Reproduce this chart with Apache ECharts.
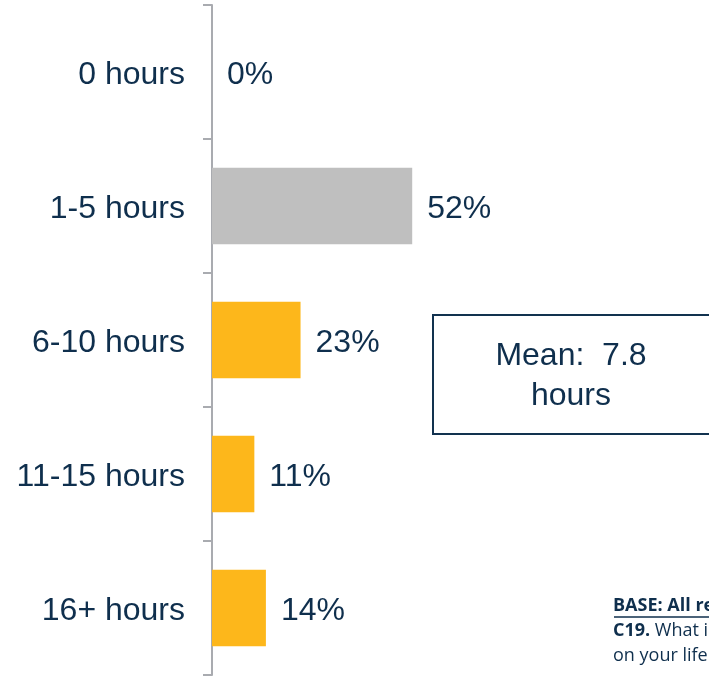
<!DOCTYPE html>
<html><head><meta charset="utf-8">
<script src="https://cdn.jsdelivr.net/npm/echarts@6/dist/echarts.min.js"></script>
<style>html,body{margin:0;padding:0;background:#fff}#c{width:709px;height:677px}</style>
</head><body><div id="c"></div>
<script>
const categories = ['0 hours', '1-5 hours', '6-10 hours', '11-15 hours', '16+ hours'];
const values = [0, 52, 23, 11, 14];
const barColors = ['#bfbfbf', '#bfbfbf', '#fdb71b', '#fdb71b', '#fdb71b'];
const meanText = ['Mean:  7.8', 'hours'];
const footnote = ['BASE: All respondents', 'C19. What is the average number of hours', 'on your life'];

const navy = '#0f2f4d';
const chart = echarts.init(document.getElementById('c'));
chart.setOption({
  animation: false,
  grid: { left: 212, top: 5, bottom: 2, width: 385 },
  xAxis: { type: 'value', min: 0, max: 100, show: false },
  yAxis: {
    type: 'category', data: categories, inverse: true,
    axisLine: { show: true, lineStyle: { color: '#a9abb0', width: 2 } },
    axisTick: { show: true, length: 9, lineStyle: { color: '#a9abb0', width: 2 } },
    axisLabel: {
      margin: 27, color: navy, fontSize: 32, fontFamily: 'Liberation Sans, Arial, sans-serif',
      formatter: '{a|{value}}',
      rich: { a: { padding: [6, 0, 0, 0], color: navy, fontSize: 32, fontFamily: 'Liberation Sans, Arial, sans-serif' } }
    }
  },
  series: [{
    type: 'bar', barCategoryGap: '43%',
    data: values.map((v, i) => ({ value: v, itemStyle: { color: barColors[i] } })),
    label: { show: true, position: 'right', distance: 15, offset: [0, 3], formatter: '{c}%', color: navy, fontSize: 32, fontFamily: 'Liberation Sans, Arial, sans-serif' }
  }],
  graphic: [
    { type: 'rect', shape: { x: 433, y: 315, width: 300, height: 119 }, style: { fill: '#fff', stroke: '#12324f', lineWidth: 2 } },
    { type: 'text', x: 571, y: 376, style: { text: meanText.join('\n'), fill: navy, font: '32px "Liberation Sans", Arial, sans-serif', align: 'center', verticalAlign: 'middle', lineHeight: 40 } },
    { type: 'text', x: 613, y: 606, style: { text: footnote[0], fill: navy, font: 'bold 18px "Open Sans", sans-serif', verticalAlign: 'middle' } },
    { type: 'line', shape: { x1: 614, y1: 617, x2: 720, y2: 617 }, style: { stroke: navy, lineWidth: 1.5 } },
    { type: 'text', x: 613, y: 631, style: { text: '{b|C19.} ' + footnote[1].replace('C19. ', ''), rich: { b: { fontWeight: 'bold', fontSize: 18, fontFamily: 'Open Sans', fill: navy } }, fill: navy, font: '18px "Open Sans", sans-serif', verticalAlign: 'middle' } },
    { type: 'text', x: 613, y: 656, style: { text: footnote[2], fill: navy, font: '18px "Open Sans", sans-serif', verticalAlign: 'middle' } }
  ]
});
</script></body></html>
